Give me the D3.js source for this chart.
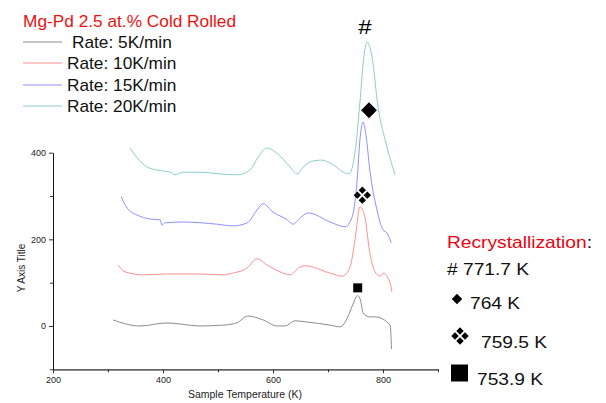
<!DOCTYPE html>
<html>
<head>
<meta charset="utf-8">
<script src="https://cdn.jsdelivr.net/npm/d3@7"></script>
<style>
body{margin:0;background:#fff;}
svg{display:block;font-family:"Liberation Sans",Arial,sans-serif;}
</style>
</head>
<body>
<svg id="chart" width="606" height="403"></svg>
<script>
// temperatures (K) and signal values
const temp5 = [309,358,407,467,509,534,554,582,607,622,640,662,704,722,736,744,754,759,764,776,786,813,815.5];
const sig5  = [14,0,7,0,2,7,23,14,0,0,12,9,2,-2,21,46,70,60,30,21,21,2,-53];

const temp10 = [318,331,364,407,467,509,527,553,571,589,613,631,649,658,704,726,740,749,758,767,776,787,795,800,813,816];
const sig10  = [141,125,118,120,120,118,122,134,155,141,125,118,136,139,122,115,136,198,275,252,169,122,115,122,99,79];

const temp15 = [324,335,353,376,395,398,404,436,498,527,553,571,582,600,626,636,649,664,704,731,744,753,758,764,769,776,789,800,807,815];
const sig15  = [298,272,256,247,245,233,238,240,235,231,238,268,282,263,245,235,249,261,240,229,252,337,429,471,441,360,268,222,215,192];

const temp20 = [340,353,371,389,413,422,435,467,504,535,558,573,589,607,631,644,655,673,689,704,738,749,758,764.5,771,780,791,804,822];
const sig20  = [411,388,367,360,355,349,355,355,351,349,360,390,411,399,367,351,367,381,383,376,351,399,515,614,655,621,505,429,349];

const seriesNames = ['Rate: 5K/min','Rate: 10K/min','Rate: 15K/min','Rate: 20K/min'];
const seriesColors = ['#8c8c8c','#ff8f8f','#8f8fff','#8fcccc'];

const xMajor = [200,400,600,800];
const xMinor = [300,500,700,900];
const yMajor = [0,200,400];
const yMinor = [-100,100,300];

// peak markers placed above each curve
const markerKind = ['square','clover','diamond','hash'];
const markerT   = [754,762.4,774.5,767.3];
const markerV   = [88,302,498,690];

const recrystLabels = ['# 771.7 K','764 K','759.5 K','753.9 K'];

const svg = d3.select('#chart');

const x = d3.scaleLinear().domain([200,900]).range([53,438]);
const y = d3.scaleLinear().domain([-100,400]).range([369.3,152.7]);

const series = [[temp5,sig5],[temp10,sig10],[temp15,sig15],[temp20,sig20]]
  .map((s,i)=>({name:seriesNames[i], color:seriesColors[i],
    values:s[0].map((t,j)=>({t, v:s[1][j]}))}));

const line = d3.line()
  .x(d=>x(d.t))
  .y(d=>y(d.v))
  .curve(d3.curveMonotoneX);

// axes
const xAxis = svg.append('g').attr('transform',`translate(0,${y(-100)})`);
xAxis.call(d3.axisBottom(x).tickValues(xMajor).tickSize(4).tickSizeOuter(0).tickFormat(d3.format('d')));
svg.append('g').attr('transform',`translate(0,${y(-100)})`)
  .call(d3.axisBottom(x).tickValues(xMinor).tickSize(3).tickSizeOuter(0).tickFormat(''))
  .select('.domain').remove();
xAxis.select('.domain').attr('stroke','#666').attr('stroke-width',1.8);

const yAxis = svg.append('g').attr('transform',`translate(${x(200)},0)`);
yAxis.call(d3.axisLeft(y).tickValues(yMajor).tickSize(4).tickSizeOuter(0).tickPadding(3));
svg.append('g').attr('transform',`translate(${x(200)},0)`)
  .call(d3.axisLeft(y).tickValues(yMinor).tickSize(3).tickSizeOuter(0).tickFormat(''))
  .select('.domain').remove();

svg.selectAll('.tick text')
  .attr('font-family','"Liberation Sans",Arial,sans-serif')
  .attr('font-size',9)
  .attr('fill','#222');
svg.selectAll('.tick line').attr('stroke','#333');
yAxis.select('.domain').attr('stroke','#111');

svg.append('text')
  .attr('x',245).attr('y',398)
  .attr('text-anchor','middle')
  .attr('font-size',10.5)
  .attr('fill','#222')
  .text('Sample Temperature (K)');

svg.append('text')
  .attr('transform','translate(25,268) rotate(-90)')
  .attr('text-anchor','middle')
  .attr('font-size',10)
  .attr('fill','#222')
  .text('Y Axis Title');

// curves
svg.append('g')
  .selectAll('path.curve')
  .data(series)
  .enter()
  .append('path')
    .attr('class','curve')
    .attr('fill','none')
    .attr('stroke',d=>d.color)
    .attr('stroke-width',1)
    .attr('d',d=>line(d.values));

// four small diamonds making the clover mark
function clover(g, cx, cy){
  [[0,-5],[5,0],[0,5],[-5,0]].forEach(o=>{
    g.append('path').attr('d',d3.symbol(d3.symbolSquare,27)())
      .attr('transform',`translate(${cx+o[0]},${cy+o[1]}) rotate(45)`).attr('fill','#000');
  });
}

// markers
const markers = svg.append('g');
markerKind.forEach((k,i)=>{
  const cx = x(markerT[i]), cy = y(markerV[i]);
  const g = markers.append('g').attr('transform',`translate(${cx},${cy})`);
  if(k==='square'){
    g.append('path').attr('d',d3.symbol(d3.symbolSquare,81)()).attr('fill','#000');
  } else if(k==='diamond'){
    g.append('path').attr('d',d3.symbol(d3.symbolSquare,125)()).attr('transform','rotate(45)').attr('fill','#000');
  } else if(k==='clover'){
    clover(g,0,0);
  } else {
    g.append('text').attr('text-anchor','middle').attr('y',7)
      .attr('transform','scale(1.2,1)')
      .attr('font-size',20).attr('fill','#000').text('#');
  }
});

// legend (top left)
svg.append('text')
  .attr('transform','translate(23,27) scale(1.08,1)')
  .attr('font-size',16)
  .attr('fill','#ee1111')
  .text('Mg-Pd 2.5 at.% Cold Rolled');

const legendY = [42,63,85,106];
const legendTextX = [72,67,67,67];
const leg = svg.append('g')
  .selectAll('g.leg')
  .data(series)
  .enter()
  .append('g')
    .attr('class','leg');
leg.append('line')
  .attr('x1',23).attr('x2',62)
  .attr('y1',(d,i)=>legendY[i]).attr('y2',(d,i)=>legendY[i])
  .attr('stroke',d=>d.color)
  .attr('stroke-width',1);
leg.append('text')
  .attr('transform',(d,i)=>`translate(${legendTextX[i]},${legendY[i]+6}) scale(1.08,1)`)
  .attr('font-size',16)
  .attr('fill','#111')
  .text(d=>d.name);

// recrystallization annotation (right)
const rt = svg.append('text')
  .attr('transform','translate(447,248) scale(1.2,1)')
  .attr('font-size',16)
  .attr('fill','#f00010');
rt.append('tspan').text('Recrystallization');
rt.append('tspan').attr('fill','#000').text(':');

const recX = [447,470,481,477];
const recY = [275,309,348,385];
recrystLabels.forEach((t,i)=>{
  svg.append('text')
    .attr('transform',`translate(${recX[i]},${recY[i]}) scale(1.2,1)`)
    .attr('font-size',16)
    .attr('fill','#111')
    .text(t);
});
const side = svg.append('g');
side.append('path').attr('d',d3.symbol(d3.symbolSquare,56)())
  .attr('transform','translate(457,299) rotate(45)').attr('fill','#000');
clover(side,460,336);
side.append('path').attr('d',d3.symbol(d3.symbolSquare,289)())
  .attr('transform','translate(459.5,373)').attr('fill','#000');
</script>
</body>
</html>
